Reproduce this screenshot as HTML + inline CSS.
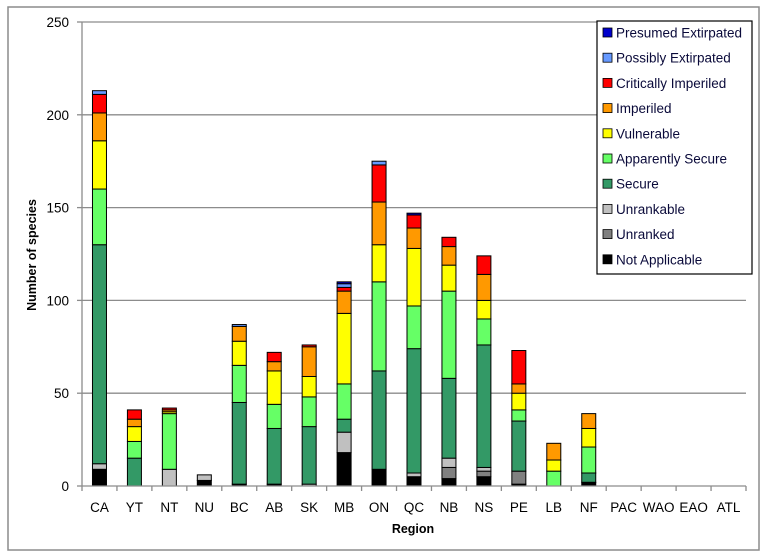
<!DOCTYPE html>
<html><head><meta charset="utf-8"><style>
body{margin:0;background:#fff;font-family:"Liberation Sans",sans-serif;}
svg{display:block}
text{font-family:"Liberation Sans",sans-serif;}
</style></head><body>
<svg id="chart" width="767" height="560">
<rect x="8" y="7" width="751" height="543" fill="#fff" stroke="#8c8c8c" stroke-width="1.5"/>
<g id="grid"></g><g id="bars"></g><g id="axes"></g><g id="legend"></g>
<text x="413" y="533" font-size="12.5" font-weight="bold" text-anchor="middle">Region</text>
<text transform="translate(36,255) rotate(-90)" font-size="12.5" font-weight="bold" text-anchor="middle">Number of species</text>
</svg>
<script>
const categories=["CA","YT","NT","NU","BC","AB","SK","MB","ON","QC","NB","NS","PE","LB","NF","PAC","WAO","EAO","ATL"];
const seriesNames=["Not Applicable","Unranked","Unrankable","Secure","Apparently Secure","Vulnerable","Imperiled","Critically Imperiled","Possibly Extirpated","Presumed Extirpated"];
const seriesColors=["#000000","#808080","#c0c0c0","#339966","#66ff66","#ffff00","#ff9900","#ff0000","#6699ff","#0000cc"];
const notApplicable=[9,0,0,3,1,1,0,18,9,5,4,5,1,0,2,0,0,0,0];
const unranked=[0,0,0,0,0,0,0,0,0,0,6,3,7,0,0,0,0,0,0];
const unrankable=[3,0,9,3,0,0,1,11,0,2,5,2,0,0,0,0,0,0,0];
const secure=[118,15,0,0,44,30,31,7,53,67,43,66,27,0,5,0,0,0,0];
const apparentlySecure=[30,9,30,0,20,13,16,19,48,23,47,14,6,8,14,0,0,0,0];
const vulnerable=[26,8,1,0,13,18,11,38,20,31,14,10,9,6,10,0,0,0,0];
const imperiled=[15,4,1,0,8,5,16,12,23,11,10,14,5,9,8,0,0,0,0];
const criticallyImperiled=[10,5,1,0,0,5,1,2,20,7,5,10,18,0,0,0,0,0,0];
const possiblyExtirpated=[2,0,0,0,1,0,0,2,2,0,0,0,0,0,0,0,0,0,0];
const presumedExtirpated=[0,0,0,0,0,0,0,1,0,1,0,0,0,0,0,0,0,0,0];
const yTicks=[0,50,100,150,200,250];
const series=[notApplicable,unranked,unrankable,secure,apparentlySecure,vulnerable,imperiled,criticallyImperiled,possiblyExtirpated,presumedExtirpated];
const NS="http://www.w3.org/2000/svg";
const L=82,R=746,T=22,B=486,YMAX=250;
const y=v=>B-(v/YMAX)*(B-T);
const bw=(R-L)/categories.length;
const xc=i=>L+bw*(i+0.5);
function mk(tag,attrs,parent){const e=document.createElementNS(NS,tag);for(const k in attrs)e.setAttribute(k,attrs[k]);parent.appendChild(e);return e;}
const grid=document.getElementById('grid'),bars=document.getElementById('bars'),axes=document.getElementById('axes'),leg=document.getElementById('legend');
yTicks.forEach(t=>{
 if(t>0){const g=mk('line',{x1:L,x2:R,y1:y(t),y2:y(t),stroke:'#8c8c8c','stroke-width':1.3},grid);
 
 }
 const tk=mk('line',{x1:L-5,x2:L,y1:y(t),y2:y(t),stroke:'#8c8c8c','stroke-width':1.3},axes);
 
 
 const tx=mk('text',{x:L-13,y:y(t)+5,'font-size':13.5,'text-anchor':'end'},axes);tx.textContent=t;
 
 
});
categories.forEach((c,i)=>{
 let acc=0;
 series.forEach((s,k)=>{const v=s[i];if(!v)return;
  const r=mk('rect',{x:xc(i)-7,y:y(acc+v),width:14,height:y(acc)-y(acc+v),fill:seriesColors[k],stroke:'#000','stroke-width':1},bars);
  
  
  acc+=v;});
 const tx=mk('text',{x:xc(i),y:512,'font-size':13.5,'text-anchor':'middle'},axes);tx.textContent=c;
 
 
});
for(let i=0;i<=categories.length;i++){const tk=mk('line',{x1:L+bw*i,x2:L+bw*i,y1:B,y2:B+5,stroke:'#8c8c8c','stroke-width':1.3},axes);
 
 }
const ax=mk('line',{x1:L,x2:L,y1:T,y2:B,stroke:'#8c8c8c','stroke-width':1.3},axes);


const ax2=mk('line',{x1:L,x2:R,y1:B,y2:B,stroke:'#8c8c8c','stroke-width':1.3},axes);


const lb=mk('rect',{x:597,y:21,width:155,height:253,fill:'#fff',stroke:'#000','stroke-width':1.2},leg);


for(let j=0;j<10;j++){const k=9-j;const yy=33+j*25.2;
 const sw=mk('rect',{x:603,y:yy-5,width:9,height:9,fill:seriesColors[k],stroke:'#000','stroke-width':0.8},leg);
 
 
 const t=mk('text',{x:616,y:yy+4.5,'font-size':13.5,fill:'#0a0a3a'},leg);t.textContent=seriesNames[k];
 
 }
</script>
</body></html>
